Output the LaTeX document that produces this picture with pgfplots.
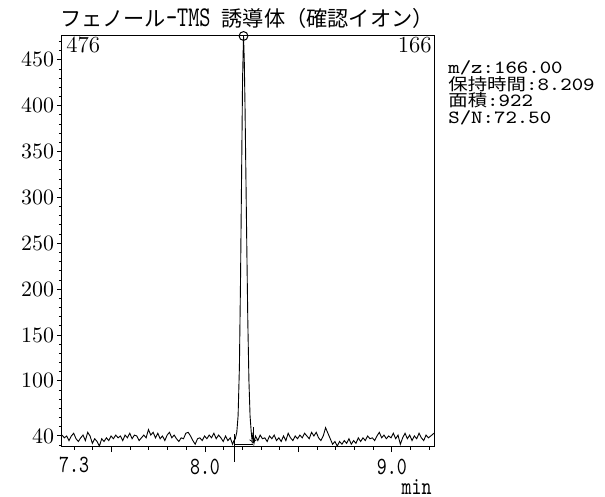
\documentclass[border=0pt]{standalone}
\usepackage{fontspec}
\usepackage{graphicx}
\usepackage{pgfplots}
\pgfplotsset{compat=1.18}
\newfontfamily\jp{Noto Sans CJK JP}
\newcommand\szY{\fontsize{11pt}{13pt}\selectfont}
\newcommand\szL{\fontsize{11.5pt}{13pt}\selectfont}
\newcommand\szX{\fontsize{9.5pt}{12pt}\selectfont}
\newcommand\szT{\fontsize{10.6pt}{12pt}\selectfont}
\newcommand\xl[1]{\scalebox{1}[1.3]{\texttt{#1}}}
\newcommand\rline[1]{\scalebox{1.17}[1]{#1}}
\newcommand\rj[1]{{\fontsize{8.3pt}{10pt}\selectfont\jp #1}}
\newcommand\rt[1]{{\fontsize{9.3pt}{10pt}\selectfont\ttfamily #1}}
\begin{document}
\begin{tikzpicture}
\useasboundingbox (-31pt,-25pt) rectangle (271.5pt,223.5pt);
\begin{axis}[
  scale only axis, width=186pt, height=205.5pt,
  xmin=7.235, xmax=9.225, ymin=28, ymax=476,
  clip=false,
  axis line style={line width=0.5pt},
  tick align=outside, xtick pos=bottom, ytick pos=left,
  major tick length=2.6pt, minor tick length=1.5pt,
  tick style={line width=0.5pt, black},
  xtick={7.5,8.0,8.5,9.0}, xticklabels={,\xl{8.0},,\xl{9.0}},
  extra x ticks={7.3}, extra x tick labels={\xl{7.3}},
  extra x tick style={major tick length=1.5pt},
  minor xtick={7.3,7.4,7.5,7.6,7.7,7.8,7.9,8.0,8.1,8.2,8.3,8.4,8.5,8.6,8.7,8.8,8.9,9.0,9.1,9.2},
  ytick={40,100,150,200,250,300,350,400,450},
  minor ytick={30,50,60,70,80,90,110,120,130,140,160,170,180,190,210,220,230,240,260,270,280,290,310,320,330,340,360,370,380,390,410,420,430,440,460,470},
  yticklabel style={font=\szY, inner xsep=1.2pt},
  xticklabel style={font=\szX},
  xlabel={\xl{min}},
  xlabel style={font=\szX, at={(rel axis cs:0.9946,-0.1144)}, anchor=base east, inner sep=0pt},
]
\addplot[black, line width=0.45pt] coordinates {
(7.235,41) (7.2475,38) (7.26,40) (7.2725,35) (7.285,40) (7.2975,43) (7.31,37) (7.3225,34)
(7.335,38) (7.3475,41) (7.36,35) (7.3725,44) (7.385,40) (7.3975,32) (7.41,37) (7.4225,34)
(7.435,29) (7.4475,37) (7.46,34) (7.4725,38) (7.485,35) (7.4975,40) (7.51,37) (7.5225,41)
(7.535,38) (7.5475,40) (7.56,35) (7.5725,41) (7.585,38) (7.5975,43) (7.61,37) (7.6225,41)
(7.635,40) (7.6475,35) (7.66,38) (7.6725,41) (7.685,38) (7.6975,47) (7.71,41) (7.7225,44)
(7.735,38) (7.7475,43) (7.76,37) (7.7725,40) (7.785,35) (7.7975,41) (7.81,44) (7.8225,38)
(7.835,41) (7.8475,37) (7.86,34) (7.8725,38) (7.885,37) (7.8975,43) (7.91,44) (7.9225,40)
(7.935,35) (7.9475,31) (7.96,37) (7.9725,38) (7.985,35) (7.9975,40) (8.01,37) (8.0225,41)
(8.035,38) (8.0475,43) (8.06,37) (8.0725,41) (8.085,38) (8.0975,34) (8.11,40) (8.1225,35)
(8.135,38) (8.1475,31) (8.155,35)
(8.162,37) (8.170,44) (8.177,62) (8.184,115) (8.190,210) (8.196,330) (8.201,430) (8.206,476)
(8.210,450) (8.214,400) (8.219,320) (8.224,240) (8.229,165) (8.235,100) (8.241,62) (8.247,45)
(8.252,35) (8.257,44) (8.262,32)
(8.27,40) (8.2825,35) (8.295,41) (8.3075,37) (8.32,38) (8.3325,34) (8.345,40) (8.3575,37)
(8.37,41) (8.3825,35) (8.395,38) (8.4075,34) (8.42,40) (8.4325,35) (8.445,43) (8.4575,38)
(8.47,35) (8.4825,40) (8.495,37) (8.5075,41) (8.52,38) (8.5325,43) (8.545,40) (8.5575,37)
(8.57,44) (8.5825,40) (8.595,44) (8.6075,38) (8.62,35) (8.6325,40) (8.645,49) (8.6575,43)
(8.67,37) (8.6825,31) (8.695,34) (8.7075,29) (8.72,34) (8.7325,31) (8.745,35) (8.7575,32)
(8.77,37) (8.7825,31) (8.795,35) (8.8075,32) (8.82,38) (8.8325,34) (8.845,38) (8.8575,35)
(8.87,40) (8.8825,37) (8.895,38) (8.9075,35) (8.92,40) (8.9325,44) (8.945,38) (8.9575,41)
(8.97,37) (8.9825,40) (8.995,38) (9.0075,43) (9.02,37) (9.0325,41) (9.045,31) (9.0575,38)
(9.07,43) (9.0825,37) (9.095,41) (9.1075,35) (9.12,40) (9.1325,37) (9.145,43) (9.1575,38)
(9.17,35) (9.1825,41) (9.195,38) (9.2075,40) (9.225,43)
};
\addplot[black, line width=0.45pt] coordinates {(8.16,31) (8.257,31)};
\addplot[black, line width=0.45pt] coordinates {(8.16,42) (8.16,12)};
\addplot[black, line width=0.45pt, ->] coordinates {(8.257,50) (8.257,32)};
\addplot[black, only marks, mark=o, mark size=2.2pt, mark options={line width=0.5pt}] coordinates {(8.206,476)};
\node[anchor=base, font=\szT, inner sep=0pt] at (rel axis cs:0.497,1.0219)
  {{\jp フェノール}\scalebox{1}[1.35]{\texttt{-TMS }}{\jp 誘導体（確認イオン）}};
\node[anchor=base west, font=\szL, inner sep=0pt] at (rel axis cs:0.0108,0.961) {476};
\node[anchor=base east, font=\szL, inner sep=0pt] at (rel axis cs:0.9946,0.961) {166};
\node[anchor=base west, inner sep=0pt, text height=6.5pt, text depth=0.5pt] at (rel axis cs:1.0376,0.908) {\rline{\rt{m/z:166.00}}};
\node[anchor=base west, inner sep=0pt, text height=6.5pt, text depth=0.5pt] at (rel axis cs:1.0376,0.868) {\rline{\rj{保持時間}\rt{:8.209}}};
\node[anchor=base west, inner sep=0pt, text height=6.5pt, text depth=0.5pt] at (rel axis cs:1.0376,0.828) {\rline{\rj{面積}\rt{:922}}};
\node[anchor=base west, inner sep=0pt, text height=6.5pt, text depth=0.5pt] at (rel axis cs:1.0376,0.788) {\rline{\rt{S/N:72.50}}};
\end{axis}
\end{tikzpicture}
\end{document}
